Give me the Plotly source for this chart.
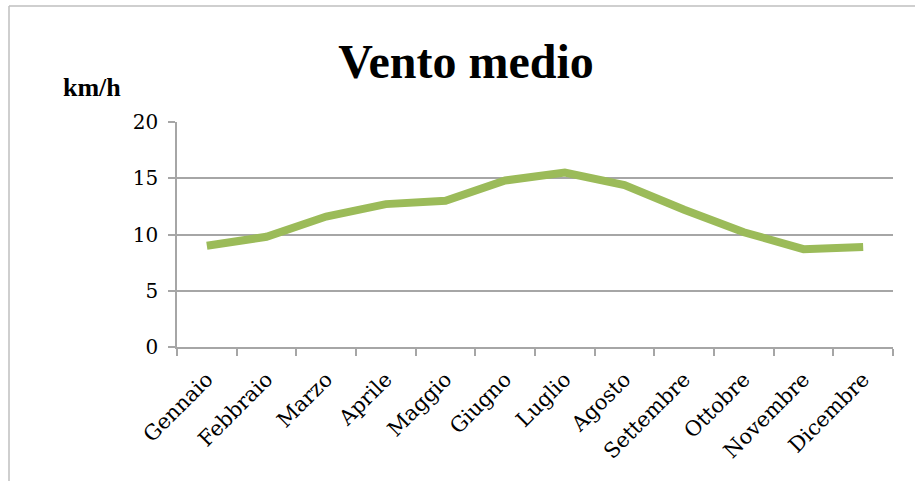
import plotly.graph_objects as go

months = ["Gennaio", "Febbraio", "Marzo", "Aprile", "Maggio", "Giugno",
          "Luglio", "Agosto", "Settembre", "Ottobre", "Novembre", "Dicembre"]
wind_kmh = [9.0, 9.8, 11.6, 12.7, 13.0, 14.8, 15.5, 14.4, 12.2, 10.2, 8.7, 8.9]
y_ticks = [0, 5, 10, 15, 20]

W, H = 915, 481
L, R, T, B = 177, 22, 122, 134

fig = go.Figure()
fig.add_trace(go.Scatter(
    x=months, y=wind_kmh, mode="lines",
    line=dict(color="#9BBB59", width=8),
    hoverinfo="x+y", showlegend=False,
))

serif = "Liberation Serif"
tick_serif = "DejaVu Serif"
grid_col = "#A6A6A6"

fig.update_layout(
    width=W, height=H,
    margin=dict(l=L, r=R, t=T, b=B, pad=0, autoexpand=False),
    paper_bgcolor="white", plot_bgcolor="white",
    font=dict(family=serif, color="#000000", size=21),
    title=dict(
        text="<b>Vento medio</b>",
        font=dict(family=serif, size=48, color="#000000"),
        x=466 / W, xanchor="center", xref="container",
        y=1 - 61 / H, yanchor="middle", yref="container",
    ),
    xaxis=dict(
        type="category", automargin=False,
        range=[-0.5, len(months) - 0.5],
        tickson="boundaries",
        ticks="outside", ticklen=7, tickcolor=grid_col, tickwidth=1.5,
        showline=True, linecolor=grid_col, linewidth=1.5,
        showgrid=False, zeroline=False,
        tickangle=-45,
        ticklabelstandoff=10,
        tickfont=dict(family=tick_serif, size=21, color="#000000"),
    ),
    yaxis=dict(
        range=[0, 20], tickvals=y_ticks, automargin=False,
        ticks="outside", ticklen=7, tickcolor=grid_col, tickwidth=1.5,
        showline=True, linecolor=grid_col, linewidth=1.5,
        showgrid=True, gridcolor=grid_col, gridwidth=1.5,
        zeroline=False,
        tickfont=dict(family=tick_serif, size=20, color="#000000"),
        ticklabelstandoff=6,
    ),
    annotations=[dict(
        text="<b>km/h</b>", xref="paper", yref="paper",
        x=(92 - L) / (W - L - R), y=(H - B - 88) / (H - T - B),
        xanchor="center", yanchor="middle", showarrow=False,
        font=dict(family=serif, size=26, color="#000000"),
    )],
    shapes=[
        dict(type="line", xref="paper", yref="paper",
             x0=(9 - L) / (W - L - R), x1=(W - L) / (W - L - R),
             y0=(H - B - 6) / (H - T - B), y1=(H - B - 6) / (H - T - B),
             line=dict(color="#BFBFBF", width=1.5)),
        dict(type="line", xref="paper", yref="paper",
             x0=(9 - L) / (W - L - R), x1=(9 - L) / (W - L - R),
             y0=(H - B - 6) / (H - T - B), y1=(H - B - H) / (H - T - B),
             line=dict(color="#BFBFBF", width=1.5)),
    ],
)

fig.write_html("out.html", config={"displayModeBar": False},
               post_script="document.body.style.margin='0';")
